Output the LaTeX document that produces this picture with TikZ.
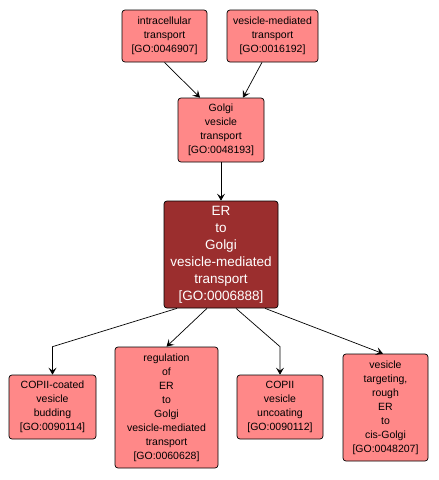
\documentclass[tikz,border=0pt]{standalone}
\usepackage{fontspec}
\setmainfont{Liberation Sans}
\usetikzlibrary{arrows.meta}
\definecolor{termfill}{RGB}{255,136,136}
\definecolor{focusfill}{RGB}{155,46,46}
\begin{document}
\begin{tikzpicture}[x=1pt,y=-1pt,
  term/.style={draw=black, fill=termfill, rounded corners=3pt, align=center,
    font=\fontsize{10.5}{14}\selectfont, inner sep=0pt, line width=0.7pt},
  focus/.style={term, fill=focusfill, text=white, font=\fontsize{13.5}{17}\selectfont},
  link/.style={draw=black, line width=0.7pt, -{Stealth[length=7pt,width=8pt,inset=3pt]}}
]
\useasboundingbox[fill=white] (0,0) rectangle (439,480);

\node[term, minimum width=85pt, minimum height=52pt] (a) at (164.5,36) {intracellular\\transport\\{[GO:0046907]}};
\node[term, minimum width=91pt, minimum height=52pt] (b) at (272.5,36) {vesicle-mediated\\transport\\{[GO:0016192]}};
\node[term, minimum width=86pt, minimum height=64pt] (c) at (221,130) {Golgi\\vesicle\\transport\\{[GO:0048193]}};
\node[focus, minimum width=114pt, minimum height=107pt] (d) at (221,254.5) {ER\\to\\Golgi\\vesicle-mediated\\transport\\{[GO:0006888]}};
\node[term, minimum width=87pt, minimum height=64pt] (e) at (52.5,407) {COPII-coated\\vesicle\\budding\\{[GO:0090114]}};
\node[term, minimum width=103pt, minimum height=121pt] (f) at (166.5,407.5) {regulation\\of\\ER\\to\\Golgi\\vesicle-mediated\\transport\\{[GO:0060628]}};
\node[term, minimum width=86pt, minimum height=64pt] (g) at (280,407) {COPII\\vesicle\\uncoating\\{[GO:0090112]}};
\node[term, minimum width=85pt, minimum height=107pt] (h) at (385.5,407.5) {vesicle\\targeting,\\rough\\ER\\to\\cis-Golgi\\{[GO:0048207]}};

\draw[link] (a.south) -- ([xshift=-21pt]c.north);
\draw[link] ([xshift=-10.5pt]b.south) -- ([xshift=22pt]c.north);
\draw[link] (c.south) -- (d.north);
\draw[link] ([xshift=-44pt]d.south) -- ([yshift=28pt]e.north) -- (e.north);
\draw[link] ([xshift=-14pt]d.south) -- (f.north);
\draw[link] ([xshift=15pt]d.south) -- ([yshift=28pt]g.north) -- (g.north);
\draw[link] ([xshift=44pt]d.south) -- ([xshift=-2.5pt]h.north);
\end{tikzpicture}
\end{document}
